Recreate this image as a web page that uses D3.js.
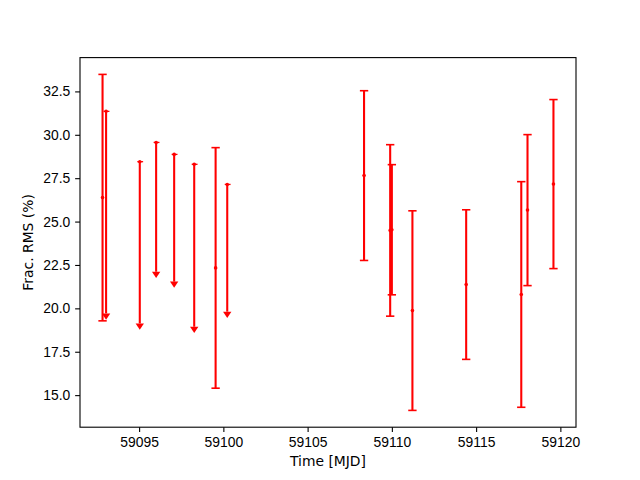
<!DOCTYPE html>
<html>
<head>
<meta charset="utf-8">
<script src="https://cdn.jsdelivr.net/npm/d3@7"></script>
<style>
  body { margin: 0; background: #fff; }
  svg { font-family: "DejaVu Sans", sans-serif; }
  .tick text { font-size: 13.89px; fill: #000; }
  .axisText { font-size: 13.89px; fill: #000; }
</style>
</head>
<body>
<div id="chart"></div>
<script>
// detections: time, fractional rms, error
var detTime = [59092.83, 59099.54, 59108.35, 59109.90, 59110.00, 59111.22, 59114.41, 59117.68, 59118.05, 59119.59];
var detRms  = [26.38, 22.33, 27.65, 24.49, 24.53, 19.87, 21.37, 20.80, 25.66, 27.16];
var detErr  = [7.10, 6.93, 4.89, 4.94, 3.75, 5.75, 4.31, 6.50, 4.35, 4.87];

// upper limits
var ulTime = [59093.04, 59095.04, 59096.01, 59097.08, 59098.27, 59100.23];
var ulRms  = [31.35, 28.45, 29.56, 28.87, 28.30, 27.14];
var ulErr  = [11.64, 9.32, 7.45, 7.33, 9.36, 7.33];

var xTicks = [59095, 59100, 59105, 59110, 59115, 59120];
var yTicks = [15.0, 17.5, 20.0, 22.5, 25.0, 27.5, 30.0, 32.5];

var svgWidth = 640;
var svgHeight = 480;
var margin = { top: 57.6, right: 64, bottom: 52.8, left: 80 };
var width = svgWidth - margin.left - margin.right;
var height = svgHeight - margin.top - margin.bottom;

var red = "#ff0000";
var capHalf = 4.17;   // capsize 3pt
var caretW = 8.33, caretH = 6.25;

var det = detTime.map(function(t, i) { return { t: t, v: detRms[i], e: detErr[i] }; });
var ul = ulTime.map(function(t, i) { return { t: t, v: ulRms[i], e: ulErr[i] }; });

// autoscale with 5% margins like matplotlib
var allT = detTime.concat(ulTime);
var lows = det.map(d => d.v - d.e).concat(ul.map(d => d.v - d.e));
var highs = det.map(d => d.v + d.e).concat(ul.map(d => d.v));
var tMin = d3.min(allT), tMax = d3.max(allT);
var yMin = d3.min(lows), yMax = d3.max(highs);
var tPad = (tMax - tMin) * 0.05, yPad = (yMax - yMin) * 0.05;

var x = d3.scaleLinear().domain([tMin - tPad, tMax + tPad]).range([0, width]);
var y = d3.scaleLinear().domain([yMin - yPad, yMax + yPad]).range([height, 0]);

var svg = d3.select("#chart")
  .append("svg")
  .attr("width", svgWidth)
  .attr("height", svgHeight);

var chartGroup = svg.append("g")
  .attr("transform", `translate(${margin.left}, ${margin.top})`);

// axes
var bottomAxis = d3.axisBottom(x).tickValues(xTicks).tickFormat(d3.format("d"))
  .tickSizeInner(4.86).tickSizeOuter(0).tickPadding(4.86);
var leftAxis = d3.axisLeft(y).tickValues(yTicks).tickFormat(d3.format(".1f"))
  .tickSizeInner(4.86).tickSizeOuter(0).tickPadding(4.86);

var xg = chartGroup.append("g")
  .attr("transform", `translate(0, ${height})`)
  .call(bottomAxis);
var yg = chartGroup.append("g").call(leftAxis);
[xg, yg].forEach(function(g) {
  g.select(".domain").remove();
  g.selectAll(".tick line").attr("stroke", "#000").attr("stroke-width", 1.1);
  g.selectAll(".tick text").attr("font-size", null).attr("font-family", null);
});

// frame
chartGroup.append("rect")
  .attr("width", width)
  .attr("height", height)
  .attr("fill", "none")
  .attr("stroke", "#000")
  .attr("stroke-width", 1.1);

var marks = chartGroup.append("g");

// detection bars
marks.selectAll(".detBar")
  .data(det)
  .enter()
  .append("line")
  .attr("x1", d => x(d.t)).attr("x2", d => x(d.t))
  .attr("y1", d => y(d.v - d.e)).attr("y2", d => y(d.v + d.e))
  .attr("stroke", red).attr("stroke-width", 2.08);

// upper limit bars
marks.selectAll(".ulBar")
  .data(ul)
  .enter()
  .append("line")
  .attr("x1", d => x(d.t)).attr("x2", d => x(d.t))
  .attr("y1", d => y(d.v - d.e)).attr("y2", d => y(d.v))
  .attr("stroke", red).attr("stroke-width", 2.08);

// caps
var capEnds = [];
det.forEach(function(d) {
  capEnds.push({ t: d.t, v: d.v - d.e });
  capEnds.push({ t: d.t, v: d.v + d.e });
});
marks.selectAll(".cap")
  .data(capEnds)
  .enter()
  .append("line")
  .attr("x1", d => x(d.t) - capHalf).attr("x2", d => x(d.t) + capHalf)
  .attr("y1", d => y(d.v)).attr("y2", d => y(d.v))
  .attr("stroke", red).attr("stroke-width", 1.6);

// small tick at the top of upper limits
marks.selectAll(".ulCap")
  .data(ul)
  .enter()
  .append("line")
  .attr("x1", d => x(d.t) - capHalf * 0.6).attr("x2", d => x(d.t) + capHalf * 0.8)
  .attr("y1", d => y(d.v)).attr("y2", d => y(d.v))
  .attr("stroke", red).attr("stroke-width", 1.3);

// carets at the low end of upper limits
marks.selectAll(".caret")
  .data(ul)
  .enter()
  .append("path")
  .attr("d", function(d) {
    var cx = x(d.t), cy = y(d.v - d.e);
    return `M${cx - caretW / 2},${cy} L${cx + caretW / 2},${cy} L${cx},${cy + caretH} Z`;
  })
  .attr("fill", red);

// points
marks.selectAll(".pt")
  .data(det.concat(ul))
  .enter()
  .append("circle")
  .attr("cx", d => x(d.t))
  .attr("cy", d => y(d.v))
  .attr("r", 1.8)
  .attr("fill", red);

// labels
svg.append("text")
  .attr("class", "axisText")
  .attr("x", margin.left + width / 2)
  .attr("y", 466)
  .attr("text-anchor", "middle")
  .text("Time [MJD]");

svg.append("text")
  .attr("class", "axisText")
  .attr("transform", `translate(32.5, ${margin.top + height / 2}) rotate(-90)`)
  .attr("text-anchor", "middle")
  .text("Frac. RMS (%)");
</script>
</body>
</html>
